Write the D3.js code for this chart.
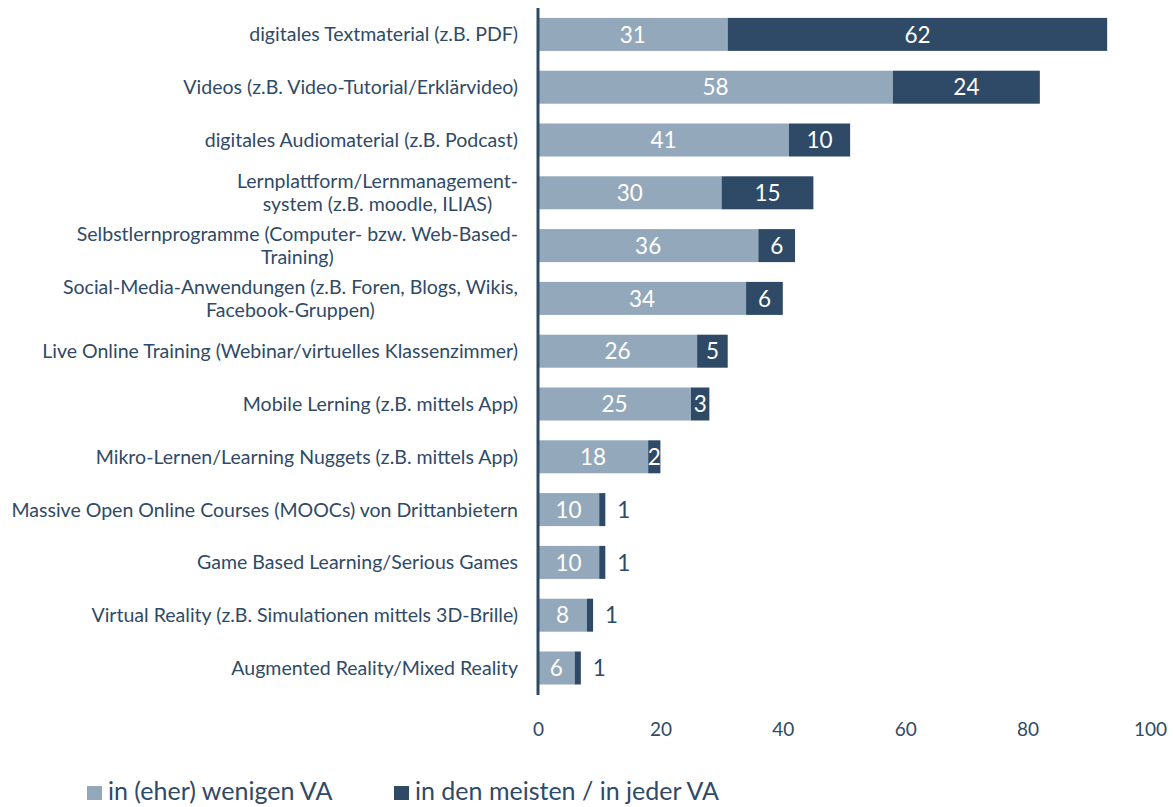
<!DOCTYPE html>
<html><head><meta charset="utf-8">
<script src="https://cdn.jsdelivr.net/npm/d3@7"></script>
<style>
html,body{margin:0;padding:0;background:#fff;}
svg{display:block;font-family:Lato,"Open Sans",sans-serif;}
</style></head>
<body>
<svg id="chart" width="1173" height="807"></svg>
<script>
const categories = [
  "digitales Textmaterial (z.B. PDF)",
  "Videos (z.B. Video-Tutorial/Erklärvideo)",
  "digitales Audiomaterial (z.B. Podcast)",
  "Lernplattform/Lernmanagement-|system (z.B. moodle, ILIAS)",
  "Selbstlernprogramme (Computer- bzw. Web-Based-|Training)",
  "Social-Media-Anwendungen (z.B. Foren, Blogs, Wikis,|Facebook-Gruppen)",
  "Live Online Training (Webinar/virtuelles Klassenzimmer)",
  "Mobile Lerning (z.B. mittels App)",
  "Mikro-Lernen/Learning Nuggets (z.B. mittels App)",
  "Massive Open Online Courses (MOOCs) von Drittanbietern",
  "Game Based Learning/Serious Games",
  "Virtual Reality (z.B. Simulationen mittels 3D-Brille)",
  "Augmented Reality/Mixed Reality"
];
const fewValues  = [31, 58, 41, 30, 36, 34, 26, 25, 18, 10, 10, 8, 6];
const mostValues = [62, 24, 10, 15, 6, 6, 5, 3, 2, 1, 1, 1, 1];
const seriesNames = ["in (eher) wenigen VA", "in den meisten / in jeder VA"];
const xTicks = [0, 20, 40, 60, 80, 100];

const lightC = "#93a8bb", darkC = "#2e4a66", textC = "#2f4a66";
const svg = d3.select("#chart");

const x = d3.scaleLinear().domain([0, 100]).range([538, 1150]);
const y = d3.scaleBand().domain(categories).range([8, 694.4]).paddingInner(0.375).paddingOuter(0.1875);

const rows = categories.map((c, i) => ({cat: c, few: fewValues[i], most: mostValues[i]}));

// bars
const g = svg.append("g");
g.selectAll("rect.few").data(rows).join("rect")
  .attr("x", x(0)).attr("y", d => y(d.cat))
  .attr("width", d => x(d.few) - x(0)).attr("height", y.bandwidth())
  .attr("fill", lightC);
g.selectAll("rect.most").data(rows).join("rect")
  .attr("x", d => x(d.few)).attr("y", d => y(d.cat))
  .attr("width", d => x(d.few + d.most) - x(d.few)).attr("height", y.bandwidth())
  .attr("fill", darkC);

// value labels
const lblSize = 22.5;
g.selectAll("text.few").data(rows).join("text")
  .attr("x", d => (x(0) + x(d.few)) / 2).attr("y", d => y(d.cat) + y.bandwidth() / 2)
  .attr("dy", "0.36em").attr("text-anchor", "middle")
  .attr("font-size", lblSize).attr("fill", "#fff").text(d => d.few);
g.selectAll("text.most").data(rows).join("text")
  .each(function(d) {
    const w = x(d.few + d.most) - x(d.few);
    const inside = w >= 10;
    d3.select(this)
      .attr("x", inside ? (x(d.few) + x(d.few + d.most)) / 2 : x(d.few + d.most) + 12)
      .attr("text-anchor", inside ? "middle" : "start")
      .attr("fill", inside ? "#fff" : textC);
  })
  .attr("y", d => y(d.cat) + y.bandwidth() / 2).attr("dy", "0.36em")
  .attr("font-size", lblSize).text(d => d.most);

// category labels (multi-line centered, block right-aligned), font fitted so the longest fits x=11..518
const probe = svg.append("text").attr("font-size", 20);
let longest = 0;
categories.forEach(c => c.split("|").forEach(ln => {
  probe.text(ln); longest = Math.max(longest, probe.node().getComputedTextLength());
}));
probe.remove();
const catSize = 20 * 507 / longest, lineH = catSize * 1.18;
categories.forEach(c => {
  const lines = c.split("|");
  const t = svg.append("text").attr("font-size", catSize).attr("fill", textC).attr("text-anchor", "middle");
  const cy = y(c) + y.bandwidth() / 2;
  lines.forEach((ln, k) => {
    t.append("tspan").attr("y", cy + (k - (lines.length - 1) / 2) * lineH).attr("dy", "0.36em").text(ln);
  });
  let maxW = 0;
  t.selectAll("tspan").each(function() { maxW = Math.max(maxW, this.getComputedTextLength()); });
  t.selectAll("tspan").attr("x", 518 - maxW / 2);
});

// axis line
svg.append("line").attr("x1", 538).attr("x2", 538).attr("y1", 8).attr("y2", 695)
  .attr("stroke", darkC).attr("stroke-width", 3);

// x tick labels
const xAxis = d3.axisBottom(x).tickValues(xTicks).tickSize(0).tickPadding(0);
const ax = svg.append("g").attr("transform", "translate(0,722)").call(xAxis);
ax.select(".domain").remove();
ax.selectAll("text").attr("font-size", 19).attr("fill", textC).attr("font-family", "Lato,'Open Sans',sans-serif");

// legend
const leg = svg.append("g");
const legX = [87, 394];
[lightC, darkC].forEach((col, i) => {
  leg.append("rect").attr("x", legX[i]).attr("y", 786).attr("width", 15).attr("height", 14).attr("fill", col);
  leg.append("text").attr("x", legX[i] + 21).attr("y", 800).attr("font-size", 25).attr("fill", textC).text(seriesNames[i]);
});
</script>
</body></html>
